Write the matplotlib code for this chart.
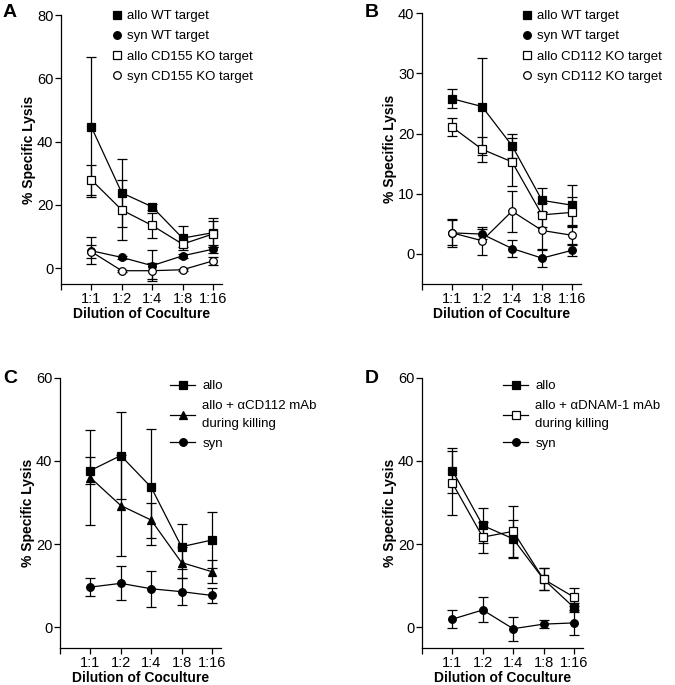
import matplotlib
matplotlib.use("Agg")
import matplotlib.pyplot as plt
from matplotlib.lines import Line2D

plt.rcParams["font.family"] = ["Liberation Sans", "DejaVu Sans"]
plt.rcParams["font.size"] = 10

dilutions = ["1:1", "1:2", "1:4", "1:8", "1:16"]
xpos = [1, 2, 3, 4, 5]

# panel A: CD155 KO targets
a_allo_wt = [44.6, 23.8, 19.4, 9.5, 11.2]
a_allo_wt_err = [22.0, 10.8, 1.0, 3.8, 4.5]
a_syn_wt = [5.5, 3.4, 0.8, 3.9, 6.0]
a_syn_wt_err = [4.3, 0.5, 4.9, 0.6, 1.2]
a_allo_ko = [27.9, 18.4, 13.5, 7.6, 10.8]
a_allo_ko_err = [4.7, 9.6, 4.0, 1.0, 4.0]
a_syn_ko = [5.2, -0.8, -0.8, -0.5, 2.3]
a_syn_ko_err = [2.0, 0.3, 2.5, 0.3, 1.3]

# panel B: CD112 KO targets
b_allo_wt = [25.8, 24.5, 18.0, 8.9, 8.1]
b_allo_wt_err = [1.6, 8.0, 2.0, 2.0, 3.3]
b_syn_wt = [3.5, 3.3, 0.9, -0.7, 0.6]
b_syn_wt_err = [2.3, 0.8, 1.4, 1.4, 1.0]
b_allo_ko = [21.1, 17.4, 15.3, 6.5, 6.9]
b_allo_ko_err = [1.5, 2.1, 4.0, 2.0, 2.5]
b_syn_ko = [3.5, 2.2, 7.1, 3.9, 3.1]
b_syn_ko_err = [2.1, 2.3, 3.4, 3.1, 1.6]

# panel C: anti-CD112 blocking
c_allo = [37.7, 41.3, 33.7, 19.4, 21.0]
c_allo_err = [3.2, 10.5, 14.0, 5.4, 6.8]
c_block = [36.0, 29.3, 25.8, 15.6, 13.4]
c_block_err = [11.4, 12.1, 4.2, 3.8, 2.8]
c_syn = [9.7, 10.6, 9.3, 8.6, 7.7]
c_syn_err = [2.2, 4.1, 4.3, 3.2, 1.8]

# panel D: anti-DNAM-1 blocking
d_allo = [37.7, 24.5, 21.3, 11.6, 4.8]
d_allo_err = [5.5, 4.2, 4.5, 2.6, 1.0]
d_block = [34.7, 21.7, 23.1, 11.6, 7.3]
d_block_err = [7.8, 3.7, 6.1, 2.6, 2.1]
d_syn = [2.0, 4.2, -0.3, 0.8, 1.1]
d_syn_err = [2.1, 3.0, 2.9, 1.0, 3.0]

MS = 5.5
STYLES = {
    "fsq": dict(marker="s", mfc="black", mec="black"),
    "fci": dict(marker="o", mfc="black", mec="black"),
    "osq": dict(marker="s", mfc="white", mec="black"),
    "oci": dict(marker="o", mfc="white", mec="black"),
    "ftr": dict(marker="^", mfc="black", mec="black"),
}


def series(ax, y, err, style):
    ax.errorbar(xpos, y, yerr=err, color="black", lw=0.9, elinewidth=0.9,
                capsize=3.5, capthick=0.9, ms=MS, mew=0.9, **STYLES[style])


def setup(ax, yticks):
    ax.set_xlim(0, 5.3)
    ax.set_ylim(-5, yticks[-1])
    ax.set_yticks(yticks)
    ax.set_xticks([0] + xpos)
    ax.set_xticklabels([""] + dilutions)
    ax.spines["top"].set_visible(False)
    ax.spines["right"].set_visible(False)
    for s in ("left", "bottom"):
        ax.spines[s].set_linewidth(0.9)
    ax.tick_params(direction="out", length=4, width=0.9, labelsize=10.5, pad=1.5)
    ax.set_xlabel("Dilution of Coculture", fontweight="bold", fontsize=10, labelpad=1)
    ax.set_ylabel("% Specific Lysis", fontweight="bold", fontsize=10, labelpad=1)


def handle(style, line):
    return Line2D([], [], color="black", lw=0.9 if line else 0, ms=MS, mew=0.9,
                  **STYLES[style])


def legend(ax, handles, labels, x, y, line):
    leg = ax.legend(handles, labels, loc="upper left", bbox_to_anchor=(x / 675, 1 - y / 685),
                    bbox_transform=fig.transFigure, frameon=False, fontsize=9.5,
                    handlelength=1.9 if line else 0.8, handletextpad=0.55 if line else 0.3,
                    labelspacing=0.6, borderaxespad=0, borderpad=0)
    for t in leg.get_texts():
        t.set_linespacing(1.6)


fig = plt.figure(figsize=(6.75, 6.85), dpi=100)

axA = fig.add_axes([0.0904, 0.5854, 0.2385, 0.3927])
series(axA, a_allo_wt, a_allo_wt_err, "fsq")
series(axA, a_allo_ko, a_allo_ko_err, "osq")
series(axA, a_syn_wt, a_syn_wt_err, "fci")
series(axA, a_syn_ko, a_syn_ko_err, "oci")
setup(axA, [0, 20, 40, 60, 80])
legend(axA, [handle("fsq", False), handle("fci", False), handle("osq", False), handle("oci", False)],
       ["allo WT target", "syn WT target", "allo CD155 KO target", "syn CD155 KO target"],
       112, 10, False)

axB = fig.add_axes([0.6252, 0.5854, 0.2356, 0.3952])
series(axB, b_allo_wt, b_allo_wt_err, "fsq")
series(axB, b_allo_ko, b_allo_ko_err, "osq")
series(axB, b_syn_wt, b_syn_wt_err, "fci")
series(axB, b_syn_ko, b_syn_ko_err, "oci")
setup(axB, [0, 10, 20, 30, 40])
legend(axB, [handle("fsq", False), handle("fci", False), handle("osq", False), handle("oci", False)],
       ["allo WT target", "syn WT target", "allo CD112 KO target", "syn CD112 KO target"],
       522, 10, False)

axC = fig.add_axes([0.0889, 0.0536, 0.2385, 0.395])
series(axC, c_allo, c_allo_err, "fsq")
series(axC, c_block, c_block_err, "ftr")
series(axC, c_syn, c_syn_err, "fci")
setup(axC, [0, 20, 40, 60])
legend(axC, [handle("fsq", True), handle("ftr", True), handle("fci", True)],
       ["allo", "allo + \u03b1CD112 mAb\nduring killing", "syn"], 170, 380, True)

axD = fig.add_axes([0.6252, 0.0536, 0.2385, 0.395])
series(axD, d_allo, d_allo_err, "fsq")
series(axD, d_block, d_block_err, "osq")
series(axD, d_syn, d_syn_err, "fci")
setup(axD, [0, 20, 40, 60])
legend(axD, [handle("fsq", True), handle("osq", True), handle("fci", True)],
       ["allo", "allo + \u03b1DNAM-1 mAb\nduring killing", "syn"], 503, 380, True)

# panel letters
for letter, x, y in [("A", 3, 4), ("B", 365, 4), ("C", 3, 370), ("D", 365, 370)]:
    fig.text(x / 675, 1 - y / 685, letter, fontsize=14, fontweight="bold", va="top", ha="left")

fig.savefig("out.png", dpi=100)
